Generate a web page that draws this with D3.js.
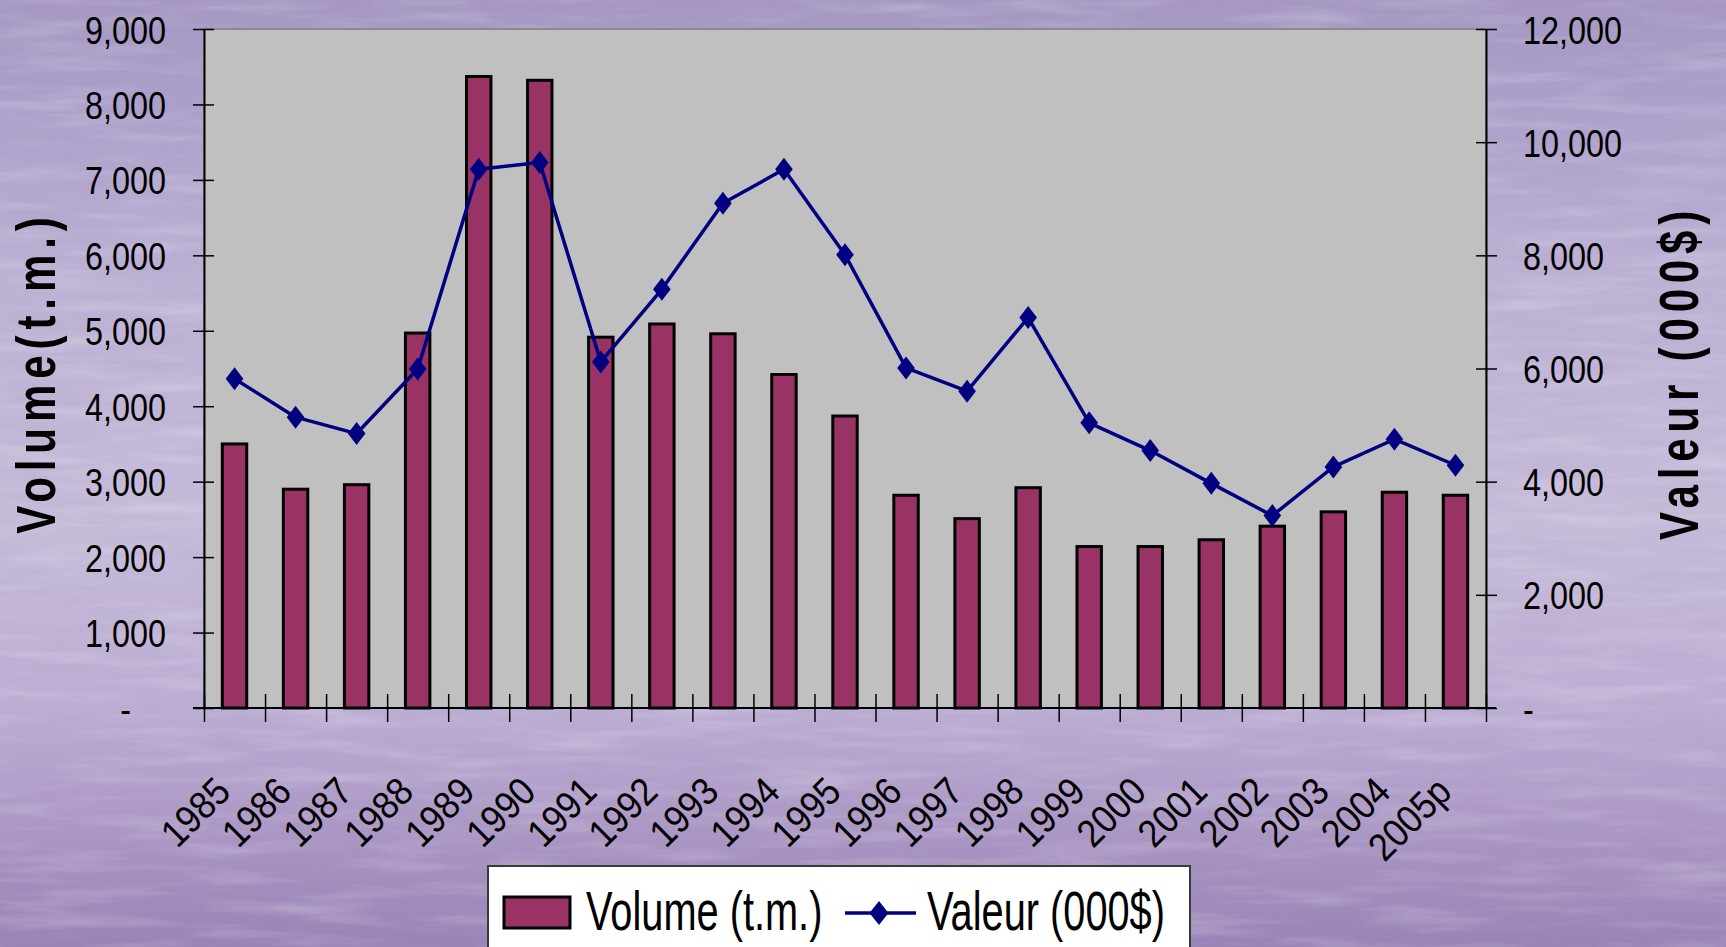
<!DOCTYPE html>
<html>
<head>
<meta charset="utf-8">
<script src="https://cdn.jsdelivr.net/npm/d3@7"></script>
<style>
  html, body { margin: 0; padding: 0; background: #b8acd0; }
  svg { display: block; }
  text { font-family: "Liberation Sans", Arial, sans-serif; fill: #000; }
</style>
</head>
<body>
<svg id="chart" width="1726" height="947"></svg>
<script>
// ---------- data ----------
const categories = ["1985","1986","1987","1988","1989","1990","1991","1992","1993","1994","1995",
                    "1996","1997","1998","1999","2000","2001","2002","2003","2004","2005p"];
const volume = [3500,2900,2960,4970,8370,8320,4915,5090,4960,4420,3870,
                2820,2510,2920,2140,2140,2230,2410,2600,2860,2820];
const valeur = [5820,5140,4850,5990,9520,9640,6115,7400,8920,9520,8010,
                6010,5600,6900,5040,4550,3970,3400,4260,4750,4290];
const leftTicks = [0,1000,2000,3000,4000,5000,6000,7000,8000,9000];
const rightTicks = [0,2000,4000,6000,8000,10000,12000];
const seriesNames = ["Volume (t.m.)", "Valeur (000$)"];
const axisTitles = ["Volume(t.m.)", "Valeur (000$)"];

// ---------- layout ----------
const W = 1726, H = 947;
const plot = { left: 204, right: 1486, top: 29, bottom: 708 };
const barColor = "#993366", lineColor = "#000080";

const svg = d3.select("#chart");
const defs = svg.append("defs");

// background gradient
const grad = defs.append("linearGradient").attr("id", "bg").attr("x1", 0).attr("y1", 0).attr("x2", 0).attr("y2", 1);
[[0, "#a597c1"], [0.1, "#ab9fc9"], [0.3, "#bdb1d4"], [0.55, "#c6bbd9"], [0.75, "#bcadd3"], [0.9, "#a793c1"], [1, "#9883b6"]]
  .forEach(([o, c]) => grad.append("stop").attr("offset", o).attr("stop-color", c));

const tex = defs.append("filter").attr("id", "tex").attr("x", 0).attr("y", 0).attr("width", 1).attr("height", 1);
tex.append("feTurbulence").attr("type", "fractalNoise").attr("baseFrequency", "0.008 0.07").attr("numOctaves", 4).attr("seed", 7);
tex.append("feColorMatrix").attr("type", "matrix")
  .attr("values", "0 0 0 0 1  0 0 0 0 1  0 0 0 0 1  1.3 0 0 0 -0.6");
const tex2 = defs.append("filter").attr("id", "tex2").attr("x", 0).attr("y", 0).attr("width", 1).attr("height", 1);
tex2.append("feTurbulence").attr("type", "fractalNoise").attr("baseFrequency", "0.01 0.1").attr("numOctaves", 4).attr("seed", 21);
tex2.append("feColorMatrix").attr("type", "matrix")
  .attr("values", "0 0 0 0 0.4  0 0 0 0 0.33  0 0 0 0 0.55  1.3 0 0 0 -0.6");

svg.append("rect").attr("width", W).attr("height", H).attr("fill", "url(#bg)");
svg.append("rect").attr("width", W).attr("height", H).attr("filter", "url(#tex)").attr("opacity", 0.35);
svg.append("rect").attr("width", W).attr("height", H).attr("filter", "url(#tex2)").attr("opacity", 0.3);

// ---------- scales ----------
const x = d3.scaleBand().domain(categories).range([plot.left, plot.right]).paddingInner(0).paddingOuter(0);
const xEdge = d3.scaleLinear().domain([0, categories.length]).range([plot.left, plot.right]);
const yL = d3.scaleLinear().domain([0, 9000]).range([plot.bottom, plot.top]);
const yR = d3.scaleLinear().domain([0, 12000]).range([plot.bottom, plot.top]);

// helper: horizontally condense text
function condense(sel, k) {
  sel.each(function () {
    const L = this.getComputedTextLength();
    d3.select(this).attr("textLength", L * k).attr("lengthAdjust", "spacingAndGlyphs");
  });
}

// plot area
svg.append("rect")
  .attr("x", plot.left).attr("y", plot.top)
  .attr("width", plot.right - plot.left).attr("height", plot.bottom - plot.top)
  .attr("fill", "#c0c0c0").attr("stroke", "#8a8a8a").attr("stroke-width", 2);

// bars
const barW = x.bandwidth() * 0.4;
svg.append("g").selectAll("rect").data(categories).join("rect")
  .attr("x", (d) => x(d) + (x.bandwidth() - barW) / 2)
  .attr("y", (d, i) => yL(volume[i]))
  .attr("width", barW)
  .attr("height", (d, i) => plot.bottom - yL(volume[i]))
  .attr("fill", barColor).attr("stroke", "#000").attr("stroke-width", 3);

// line
const cx = (d) => x(d) + x.bandwidth() / 2;
const line = d3.line().x((d, i) => cx(categories[i])).y((d) => yR(d));
svg.append("path").datum(valeur).attr("d", line)
  .attr("fill", "none").attr("stroke", lineColor).attr("stroke-width", 3.5).attr("stroke-linejoin", "round");
const diamond = "M0,-11.5L8.8,0L0,11.5L-8.8,0Z";
svg.append("g").selectAll("path").data(valeur).join("path")
  .attr("transform", (d, i) => `translate(${cx(categories[i])},${yR(d)})`)
  .attr("d", diamond).attr("fill", lineColor);

// ---------- axes ----------
const fmt = (v) => (v === 0 ? "-" : d3.format(",")(v));

const gL = svg.append("g").attr("transform", `translate(${plot.left},0)`)
  .call(d3.axisLeft(yL).tickValues(leftTicks).tickFormat(fmt).tickSize(11).tickSizeOuter(0).tickPadding(27));
gL.select(".domain").attr("stroke", "#000").attr("stroke-width", 2);
gL.selectAll(".tick line").attr("x1", 10).attr("stroke", "#000").attr("stroke-width", 1.5);
gL.selectAll(".tick text").attr("font-size", 39).attr("dy", "0.36em").call(condense, 0.83);
gL.selectAll(".tick text").filter((d) => d === 0).attr("x", -73);

const gR = svg.append("g").attr("transform", `translate(${plot.right},0)`)
  .call(d3.axisRight(yR).tickValues(rightTicks).tickFormat(fmt).tickSize(11).tickSizeOuter(0).tickPadding(26));
gR.select(".domain").attr("stroke", "#000").attr("stroke-width", 2);
gR.selectAll(".tick line").attr("x1", -10).attr("stroke", "#000").attr("stroke-width", 1.5);
gR.selectAll(".tick text").attr("font-size", 39).attr("dy", "0.36em").call(condense, 0.83);

// x axis: boundary ticks
const gX = svg.append("g").attr("transform", `translate(0,${plot.bottom})`)
  .call(d3.axisBottom(xEdge).tickValues(d3.range(0, categories.length + 1)).tickFormat("").tickSize(14).tickSizeOuter(0));
gX.select(".domain").remove();
gX.selectAll(".tick line").attr("y1", -14).attr("stroke", "#000").attr("stroke-width", 1.5);
svg.append("line").attr("x1", plot.left - 11).attr("x2", plot.right + 10)
  .attr("y1", plot.bottom).attr("y2", plot.bottom).attr("stroke", "#000").attr("stroke-width", 2);

// x labels
const gXL = svg.append("g").attr("transform", `translate(0,${plot.bottom})`)
  .call(d3.axisBottom(x).tickSize(0).tickPadding(0));
gXL.select(".domain").remove();
gXL.selectAll(".tick text")
  .attr("font-size", 39).attr("text-anchor", "end").attr("dy", 0).attr("y", 0)
  .attr("transform", "translate(-2,86) rotate(-45)")
  .call(condense, 0.9);

// axis titles
svg.append("text").text(axisTitles[0])
  .attr("transform", "translate(55,372.5) rotate(-90)")
  .attr("text-anchor", "middle").attr("font-size", 56).attr("font-weight", "bold")
  .attr("letter-spacing", 7.9).call(condense, 0.75);
svg.append("text").text(axisTitles[1])
  .attr("transform", "translate(1698,372.5) rotate(-90)")
  .attr("text-anchor", "middle").attr("font-size", 56).attr("font-weight", "bold")
  .attr("letter-spacing", 7.8).call(condense, 0.75);

// ---------- legend ----------
const lg = svg.append("g");
lg.append("rect").attr("x", 488).attr("y", 866).attr("width", 702).attr("height", 100)
  .attr("fill", "#fff").attr("stroke", "#3a3a3a").attr("stroke-width", 2);
lg.append("rect").attr("x", 504).attr("y", 897).attr("width", 66).attr("height", 31)
  .attr("fill", barColor).attr("stroke", "#000").attr("stroke-width", 3);
lg.append("text").text(seriesNames[0]).attr("x", 586).attr("y", 930).attr("font-size", 56).call(condense, 0.71);
lg.append("line").attr("x1", 845).attr("x2", 916).attr("y1", 913).attr("y2", 913)
  .attr("stroke", lineColor).attr("stroke-width", 3.5);
lg.append("path").attr("transform", "translate(879,913)").attr("d", "M0,-12L9.5,0L0,12L-9.5,0Z").attr("fill", lineColor);
lg.append("text").text(seriesNames[1]).attr("x", 927).attr("y", 930).attr("font-size", 56).call(condense, 0.71);
</script>
</body>
</html>
